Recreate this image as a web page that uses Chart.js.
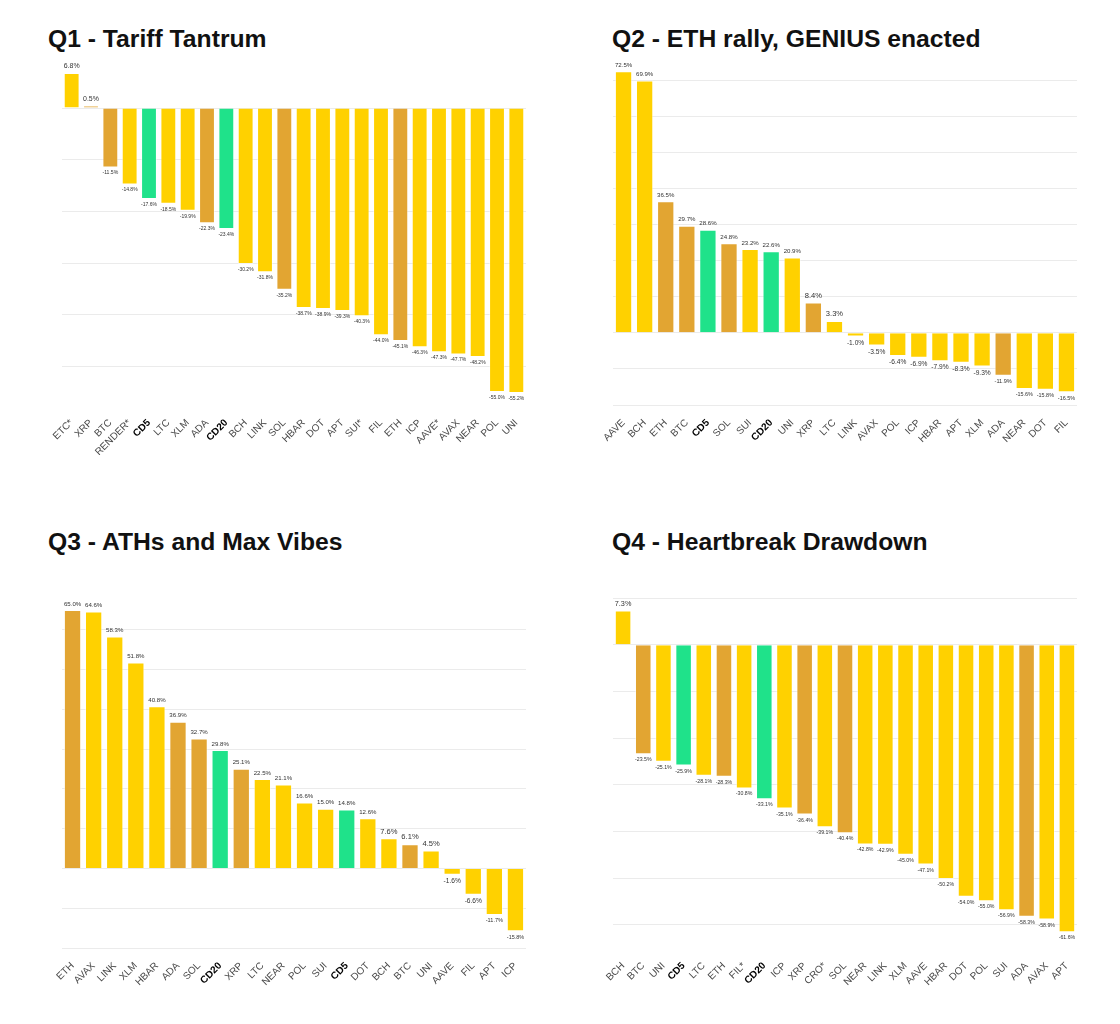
<!DOCTYPE html>
<html>
<head>
<meta charset="utf-8">
<script src="https://cdn.jsdelivr.net/npm/chart.js@4.4.1/dist/chart.umd.min.js"></script>
<style>
  body { margin: 0; background: #fff; width: 1120px; height: 1024px; position: relative; font-family: "Liberation Sans", Arial, sans-serif; }
  .title { position: absolute; font-weight: bold; font-size: 24.7px; line-height: 24px; color: #111; white-space: nowrap; }
  .panel { position: absolute; width: 500px; }
</style>
</head>
<body>
<div class="title" style="left:48px; top:27px">Q1 - Tariff Tantrum</div>
<div class="title" style="left:612px; top:27px">Q2 - ETH rally, GENIUS enacted</div>
<div class="title" style="left:48px; top:530px">Q3 - ATHs and Max Vibes</div>
<div class="title" style="left:612px; top:530px">Q4 - Heartbreak Drawdown</div>

<div class="panel" style="left:40px; top:50px; height:405px"><canvas id="q1"></canvas></div>
<div class="panel" style="left:591px; top:50px; height:405px"><canvas id="q2"></canvas></div>
<div class="panel" style="left:40px; top:590px; height:408px"><canvas id="q3"></canvas></div>
<div class="panel" style="left:591px; top:590px; height:408px"><canvas id="q4"></canvas></div>

<script>
// Datos por trimestre (rendimiento %)
const q1Labels = ['ETC*', 'XRP', 'BTC', 'RENDER*', 'CD5', 'LTC', 'XLM', 'ADA', 'CD20', 'BCH', 'LINK', 'SOL', 'HBAR', 'DOT', 'APT', 'SUI*', 'FIL', 'ETH', 'ICP', 'AAVE*', 'AVAX', 'NEAR', 'POL', 'UNI'];
const q1Values = [6.8, 0.5, -11.5, -14.8, -17.6, -18.5, -19.9, -22.3, -23.4, -30.2, -31.8, -35.2, -38.7, -38.9, -39.3, -40.3, -44.0, -45.1, -46.3, -47.3, -47.7, -48.2, -55.0, -55.2];

const q2Labels = ['AAVE', 'BCH', 'ETH', 'BTC', 'CD5', 'SOL', 'SUI', 'CD20', 'UNI', 'XRP', 'LTC', 'LINK', 'AVAX', 'POL', 'ICP', 'HBAR', 'APT', 'XLM', 'ADA', 'NEAR', 'DOT', 'FIL'];
const q2Values = [72.5, 69.9, 36.5, 29.7, 28.6, 24.8, 23.2, 22.6, 20.9, 8.4, 3.3, -1.0, -3.5, -6.4, -6.9, -7.9, -8.3, -9.3, -11.9, -15.6, -15.8, -16.5];

const q3Labels = ['ETH', 'AVAX', 'LINK', 'XLM', 'HBAR', 'ADA', 'SOL', 'CD20', 'XRP', 'LTC', 'NEAR', 'POL', 'SUI', 'CD5', 'DOT', 'BCH', 'BTC', 'UNI', 'AAVE', 'FIL', 'APT', 'ICP'];
const q3Values = [65.0, 64.6, 58.3, 51.8, 40.8, 36.9, 32.7, 29.8, 25.1, 22.5, 21.1, 16.6, 15.0, 14.8, 12.6, 7.6, 6.1, 4.5, -1.6, -6.6, -11.7, -15.8];

const q4Labels = ['BCH', 'BTC', 'UNI', 'CD5', 'LTC', 'ETH', 'FIL*', 'CD20', 'ICP', 'XRP', 'CRO*', 'SOL', 'NEAR', 'LINK', 'XLM', 'AAVE', 'HBAR', 'DOT', 'POL', 'SUI', 'ADA', 'AVAX', 'APT'];
const q4Values = [7.3, -23.5, -25.1, -25.9, -28.1, -28.3, -30.8, -33.1, -35.1, -36.4, -39.1, -40.4, -42.8, -42.9, -45.0, -47.1, -50.2, -54.0, -55.0, -56.9, -58.3, -58.9, -61.6];

// Índices y miembros del CD5
const indexNames = ['CD5', 'CD20'];
const cd5Members = ['BTC', 'ETH', 'XRP', 'SOL', 'ADA'];

const FONT = '"Liberation Sans", Arial, sans-serif';

function barColor(label) {
    if (indexNames.includes(label)) return '#1FE28A';
    if (cd5Members.includes(label)) return '#E2A532';
    return '#FFD100';
}

// Etiquetas de valor encima / debajo de cada barra (ajustadas al ancho de la barra)
const barValueLabels = {
    id: 'barValueLabels',
    afterDatasetsDraw(chart) {
        const ctx = chart.ctx;
        const meta = chart.getDatasetMeta(0);
        const values = chart.data.datasets[0].data;
        ctx.save();
        ctx.fillStyle = '#333';
        ctx.textAlign = 'center';
        meta.data.forEach((bar, i) => {
            const v = values[i];
            const text = v.toFixed(1) + '%';
            ctx.font = '10px ' + FONT;
            const w = ctx.measureText(text).width;
            const size = Math.min(10, 10 * bar.width / w);
            ctx.font = size.toFixed(2) + 'px ' + FONT;
            if (v >= 0) {
                ctx.textBaseline = 'bottom';
                ctx.fillText(text, bar.x, bar.y - 3);
            } else {
                ctx.textBaseline = 'top';
                ctx.fillText(text, bar.x, bar.y + 3);
            }
        });
        ctx.restore();
    }
};

function renderChart(id, labels, values, yMin, yMax, padTop) {
    new Chart(document.getElementById(id), {
        type: 'bar',
        data: {
            labels: labels,
            datasets: [{
                data: values,
                backgroundColor: labels.map(barColor),
                borderColor: 'rgba(255, 255, 255, 0.45)',
                borderWidth: 1,
                barPercentage: 0.82,
                categoryPercentage: 1
            }]
        },
        options: {
            responsive: true,
            maintainAspectRatio: false,
            animation: false,
            layout: { padding: { left: 22, right: 14, top: padTop, bottom: 0 } },
            plugins: {
                legend: { display: false },
                tooltip: { enabled: false }
            },
            scales: {
                x: {
                    grid: { display: false },
                    border: { display: false },
                    ticks: {
                        autoSkip: false,
                        minRotation: 45,
                        maxRotation: 45,
                        padding: 4,
                        color: c => indexNames.includes(labels[c.index]) ? '#000' : '#4a4a4a',
                        font: c => ({
                            family: FONT,
                            size: 10,
                            weight: indexNames.includes(labels[c.index]) ? 'bold' : 'normal'
                        })
                    },
                    afterFit: scale => {
                        scale.height = 50;
                        scale.paddingLeft = 0;
                        scale.paddingRight = 0;
                    }
                },
                y: {
                    min: yMin,
                    max: yMax,
                    border: { display: false },
                    grid: {
                        drawTicks: false,
                        color: c => (c.tick && Math.abs(c.tick.value % 10) < 1e-6) ? '#ebebeb' : 'rgba(0,0,0,0)'
                    },
                    ticks: { display: false, stepSize: 10, includeBounds: false },
                    afterFit: scale => { scale.width = 0; }
                }
            }
        },
        plugins: [barValueLabels]
    });
}

document.addEventListener('DOMContentLoaded', () => {
    renderChart('q1', q1Labels, q1Values, -57.5, 9.9, 7);
    renderChart('q2', q2Labels, q2Values, -20, 77, 5);
    renderChart('q3', q3Labels, q3Values, -20, 68, 8);
    renderChart('q4', q4Labels, q4Values, -65, 10, 8);
});
</script>
</body>
</html>
